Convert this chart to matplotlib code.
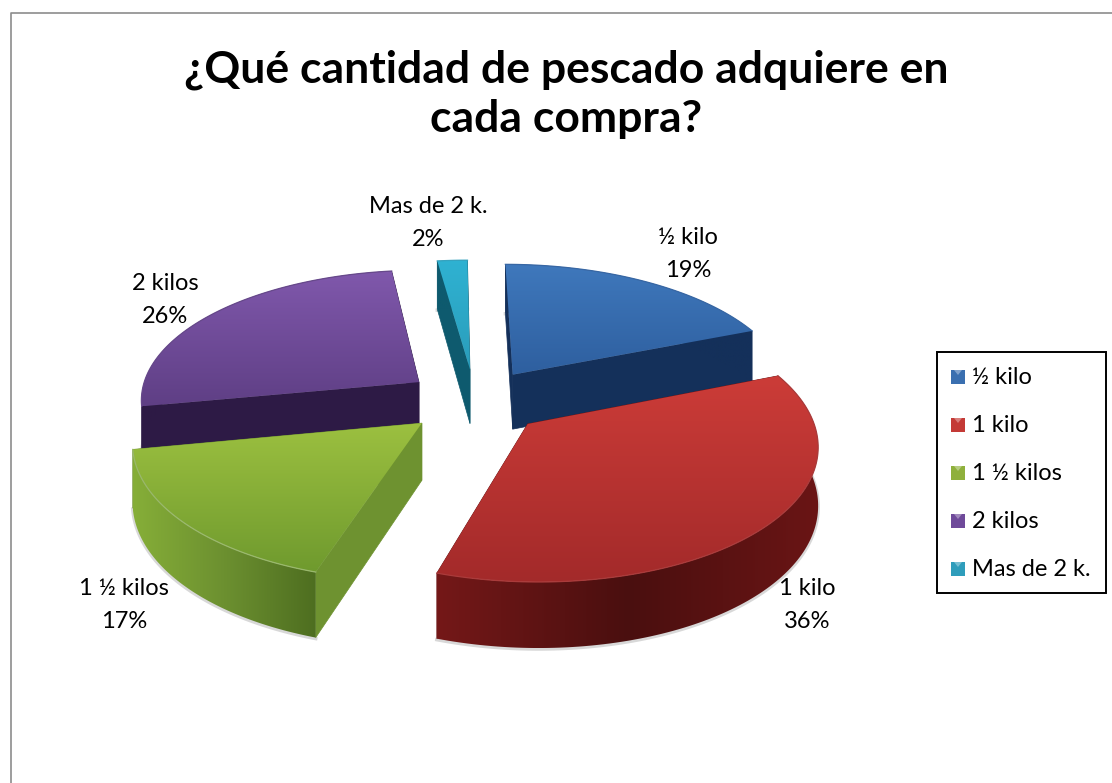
import numpy as np
import matplotlib
matplotlib.use('Agg')
import matplotlib.pyplot as plt
from matplotlib.colors import to_rgb
from matplotlib.patches import Polygon, Rectangle

plt.rcParams['font.family'] = ['Lato', 'DejaVu Sans']

title = '¿Qué cantidad de pescado adquiere en\ncada compra?'
categories = ['½ kilo', '1 kilo', '1 ½ kilos', '2 kilos', 'Mas de 2 k.']
percents = [19, 36, 17, 26, 2]

# top gradient (back to front), outer wall (left, middle, right) and radial wall
top_colors = [('#3F78BC', '#2E5F9F'), ('#CC3C38', '#A32A2A'), ('#9CC040', '#6F9A2E'),
              ('#8058AC', '#5F3F85'), ('#2FB2D2', '#2A9DBB')]
wall_colors = [('#14305A', '#14305A', '#14305A'), ('#741818', '#4A0F0F', '#6A1515'),
               ('#86AE38', '#6C9030', '#4E6E20'), ('#2D1A45', '#2D1A45', '#2D1A45'),
               ('#0E5A6E', '#0E5A6E', '#0E5A6E')]
side_colors = ['#14305A', '#6A1515', '#6E9230', '#2D1A45', '#0E5A6E']
rim_mix = [0.05, 0.08, 0.3, 0.05, 0.05]
legend_colors = ['#3A6FB0', '#C43A36', '#8FB03C', '#6F4A9A', '#2F9DBB']

# label centres in pixels, for each category
label_x = [688, 807, 124, 165, 428]
label_y = [254, 605, 605, 300, 223]

# projection of the pie disc on the page
cx, cy = 475, 401
a, b = 280, 131
persp = 0.13
skew = 3
explode = 0.25
depth = 56

fig = plt.figure(figsize=(11.12, 7.83), dpi=100)
ax = fig.add_axes([0, 0, 1, 1])


def project(u, v):
    s = 1 / (1 + persp * v)
    return cx + a * u * s - skew * v, cy - b * v * s, depth * s


def mix(c1, c2, t):
    return tuple((1 - t) * np.array(to_rgb(c1)) + t * np.array(to_rgb(c2)))


def gradient_fill(px, py, stops, vertical, z):
    # imshow a colour ramp and clip it to the polygon
    ts = np.linspace(0, len(stops) - 1, 200)
    ramp = []
    for t in ts:
        k = min(int(t), len(stops) - 2)
        ramp.append(mix(stops[k], stops[k + 1], t - k))
    ramp = np.array(ramp)
    grad = ramp[:, None, :] if vertical else ramp[None, :, :]
    im = ax.imshow(grad, extent=(px.min(), px.max(), py.max(), py.min()), aspect='auto', zorder=z)
    im.set_clip_path(Polygon(np.c_[px, py], closed=True, transform=ax.transData))


edges = np.cumsum([0] + percents) / sum(percents) * 2 * np.pi
order = [4, 3, 0, 2, 1]
z = 2
for i in order:
    th = np.linspace(edges[i], edges[i + 1], 120)
    mid = (edges[i] + edges[i + 1]) / 2
    ou, ov = explode * np.sin(mid), explode * np.cos(mid)
    x, y, d = project(ou + np.sin(th), ov + np.cos(th))
    ax0, ay0, ad0 = project(ou, ov)

    # soft halo under the slice
    ax.plot(x, y + d + 1, color='#909090', alpha=0.35, lw=2.5, zorder=z - 0.1)

    # radial walls
    for k in [0, -1]:
        quad = [(ax0, ay0), (x[k], y[k]), (x[k], y[k] + d[k]), (ax0, ay0 + ad0)]
        ax.add_patch(Polygon(quad, closed=True, fc=side_colors[i], ec=side_colors[i], lw=0.5, zorder=z))

    # outer wall
    gradient_fill(np.r_[x, x[::-1]], np.r_[y, (y + d)[::-1]], wall_colors[i], False, z + 0.1)

    # top surface
    px = np.r_[ax0, x]
    py = np.r_[ay0, y]
    gradient_fill(px, py, top_colors[i], True, z + 0.2)
    ax.plot(x, y, color=mix(top_colors[i][1], '#FFFFFF', rim_mix[i]), lw=0.9, zorder=z + 0.3)
    z += 1

ax.set_xlim(0, 1112)
ax.set_ylim(783, 0)
ax.axis('off')

# chart frame, only top and left show
ax.plot([10.5, 10.5, 1112], [783, 12.5, 12.5], color='#8C8C8C', lw=1.2, zorder=1)

ax.text(566, 94, title, ha='center', va='center', fontsize=32, fontweight='bold',
        linespacing=1.285, color='black', zorder=20)

for i in range(len(categories)):
    ax.text(label_x[i], label_y[i], f'{categories[i]}\n{percents[i]}%', ha='center', va='center',
            fontsize=17, linespacing=1.67, color='black', zorder=20)

# legend
ax.add_patch(Rectangle((937, 352), 169, 241, fc='white', ec='black', lw=1.4, zorder=20))
legend_y = np.linspace(377, 569, len(categories))
for i in range(len(categories)):
    ax.add_patch(Rectangle((951, legend_y[i] - 7), 14, 14, fc=legend_colors[i], ec='none', zorder=21))
    ax.add_patch(Polygon([(954, legend_y[i] - 7), (962, legend_y[i] - 7), (958, legend_y[i] - 2)], closed=True,
                         fc=mix(legend_colors[i], '#FFFFFF', 0.35), ec='none', zorder=22))
    ax.text(972, legend_y[i], categories[i], ha='left', va='center', fontsize=17, color='black', zorder=22)

fig.savefig('out.png', dpi=100, facecolor='white')
